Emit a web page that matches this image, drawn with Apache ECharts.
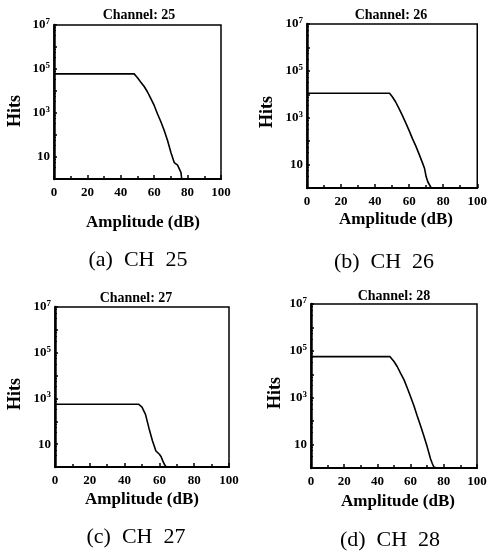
<!DOCTYPE html>
<html>
<head>
<meta charset="utf-8">
<title>Hits vs amplitude, channels 25-28</title>
<script src="https://cdn.jsdelivr.net/npm/echarts@6/dist/echarts.min.js"></script>
<style>
    html, body { margin: 0; padding: 0; background: #fff; }
    #chart { width: 490px; height: 553px; }
</style>
</head>
<body>
<div id="chart"></div>
<script>
    // data (amplitude in dB, hits per bin)
    var channels = ['25', '26', '27', '28'];
    var captions = ['(a)  CH  25', '(b)  CH  26', '(c)  CH  27', '(d)  CH  28'];

    var amp25  = [0, 48, 50, 52, 54, 56, 58, 60, 62, 64, 66, 68, 70, 72, 74, 75, 76, 76.5];
    var hits25 = [60000, 60000, 40000, 25000, 16000, 9000, 4500, 2200, 900, 400, 160, 56, 16, 5.6, 4.3, 3.5, 2, 1];

    var amp26  = [0, 48.5, 50, 52, 54, 56, 58, 60, 62, 64, 66, 68, 69, 70, 71, 72, 73];
    var hits26 = [11000, 11000, 8000, 4800, 2500, 1250, 600, 280, 125, 60, 26, 11, 7, 3, 1.8, 1.7, 1];

    var amp27  = [0, 48, 50, 52, 54, 56, 58, 60, 61, 62, 63, 64];
    var hits27 = [560, 560, 420, 200, 50, 14, 5, 3.6, 2.8, 1.8, 1.25, 1];

    var amp28  = [0, 47.5, 50, 52, 54, 56, 58, 60, 62, 64, 66, 68, 70, 72, 73, 74, 76];
    var hits28 = [57000, 57000, 35000, 21000, 11000, 5900, 2600, 1100, 450, 165, 63, 23, 8, 2.5, 1.6, 1.1, 1];

    var xTicks = [0, 20, 40, 60, 80, 100];
    var yMin = 1, yMax = 1e7;

    var ampList = [amp25, amp26, amp27, amp28];
    var hitList = [hits25, hits26, hits27, hits28];

    // panel layout: plot box, title, axis names, caption (pixels)
    var panels = [
        {left: 54,  top: 25,  width: 167, height: 154, titleX: 139, titleY: 15,  hitsX: 15,  hitsY: 111, ampX: 143, ampY: 223, capX: 138, capY: 260},
        {left: 307, top: 24,  width: 174, height: 164, titleX: 391, titleY: 15,  hitsX: 267, hitsY: 112, ampX: 396, ampY: 220, capX: 384, capY: 262},
        {left: 55,  top: 307, width: 174, height: 160, titleX: 136, titleY: 298, hitsX: 15,  hitsY: 394, ampX: 142, ampY: 500, capX: 136, capY: 537},
        {left: 311, top: 304, width: 166, height: 164, titleX: 394, titleY: 296, hitsX: 275, hitsY: 393, ampX: 398, ampY: 502, capX: 390, capY: 540}
    ];

    var serif = '"Liberation Serif", "DejaVu Serif", serif';

    var myChart = echarts.init(document.getElementById('chart'));

    var grids = [], xAxes = [], yAxes = [], series = [], texts = [];
    panels.forEach(function (p, i) {
        grids.push({
            left: p.left, top: p.top, width: p.width, height: p.height,
            show: true, borderColor: '#000', borderWidth: 1.5, backgroundColor: 'transparent'
        });
        xAxes.push({
            gridIndex: i, type: 'value',
            min: xTicks[0], max: xTicks[xTicks.length - 1], interval: 20,
            axisLine: {lineStyle: {color: '#000', width: 2}},
            axisTick: {inside: true, length: 4, lineStyle: {color: '#000', width: 1.5}},
            minorTick: {show: true, splitNumber: 2, length: 3, lineStyle: {color: '#000', width: 1.5}},
            splitLine: {show: false},
            axisLabel: {
                margin: 7, color: '#000', fontFamily: serif, fontWeight: 'bold', fontSize: 13
            }
        });
        yAxes.push({
            gridIndex: i, type: 'log', logBase: 10,
            min: yMin, max: yMax, interval: 1,
            axisLine: {lineStyle: {color: '#000', width: 2.5}},
            axisTick: {inside: true, length: 3, lineStyle: {color: '#000', width: 1.5}},
            minorTick: {show: true, splitNumber: 4, length: 2, lineStyle: {color: '#000', width: 1}},
            splitLine: {show: false},
            axisLabel: {
                margin: 4, color: '#000', fontFamily: serif, fontWeight: 'bold', fontSize: 13,
                formatter: function (v) {
                    var e = Math.round(Math.log(v) / Math.LN10);
                    if (e % 2 === 0) return '';
                    if (e === 1) return '{b|10}';
                    return '{b|10}{s|' + e + '}';
                },
                rich: {
                    b: {fontFamily: serif, fontWeight: 'bold', fontSize: 13, color: '#000', lineHeight: 16},
                    s: {fontFamily: serif, fontWeight: 'bold', fontSize: 9, color: '#000', verticalAlign: 'top', lineHeight: 16}
                }
            }
        });
        series.push({
            type: 'line', xAxisIndex: i, yAxisIndex: i,
            showSymbol: false, silent: true,
            lineStyle: {color: '#000', width: 1.6},
            data: ampList[i].map(function (a, k) { return [a, hitList[i][k]]; })
        });
        texts.push({
            type: 'text', x: p.titleX, y: p.titleY,
            style: {text: 'Channel: ' + channels[i], font: 'bold 14px ' + serif, fill: '#000', textAlign: 'center', textVerticalAlign: 'middle'}
        });
        texts.push({
            type: 'text', x: p.hitsX, y: p.hitsY, rotation: Math.PI / 2,
            style: {text: 'Hits', font: 'bold 18px ' + serif, fill: '#000', textAlign: 'center', textVerticalAlign: 'middle'}
        });
        texts.push({
            type: 'text', x: p.ampX, y: p.ampY,
            style: {text: 'Amplitude (dB)', font: 'bold 17px ' + serif, fill: '#000', textAlign: 'center', textVerticalAlign: 'middle'}
        });
        texts.push({
            type: 'text', x: p.capX, y: p.capY,
            style: {text: captions[i], font: '22px ' + serif, fill: '#000', textAlign: 'center', textVerticalAlign: 'middle'}
        });
    });

    myChart.setOption({
        animation: false,
        backgroundColor: '#fff',
        grid: grids,
        xAxis: xAxes,
        yAxis: yAxes,
        series: series,
        graphic: texts
    });
</script>
</body>
</html>
